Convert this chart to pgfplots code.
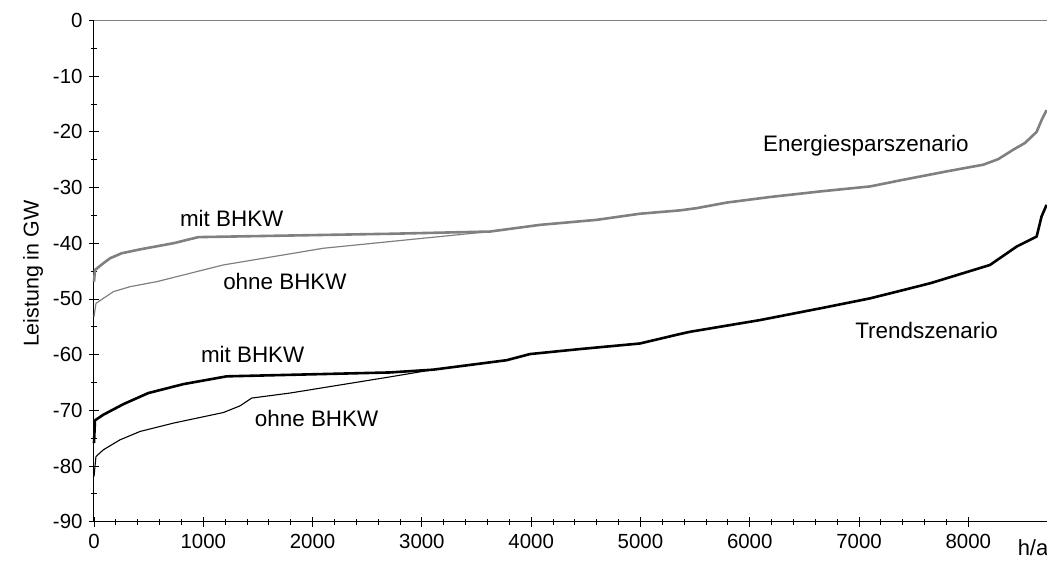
\documentclass[border=0pt]{standalone}
\usepackage{fontspec}
\setmainfont{Liberation Sans}
\usepackage{pgfplots}
\pgfplotsset{compat=1.18}
\definecolor{lgray}{RGB}{128,128,128}
\begin{document}
\begin{tikzpicture}[x=1bp,y=1bp]
\begin{axis}[
  at={(0,0)}, anchor=south west,
  scale only axis, width=953bp, height=501.2bp,
  xmin=0, xmax=8720, ymin=-90, ymax=0,
  axis x line*=bottom, axis y line*=left,
  xtick={0,1000,...,8000}, ytick={-90,-80,...,0},
  minor x tick num=4, minor y tick num=1,
  tick align=center, major tick length=10bp, minor tick length=6bp,
  tick style={black, line width=0.8bp},
  axis line style={black, line width=1bp},
  /pgf/number format/assume math mode=true,
  /pgf/number format/1000 sep={},
  ticklabel style={font=\fontsize{20.5}{24}\selectfont},
  xticklabel style={yshift=-4bp},
  yticklabel style={xshift=-3bp},
  extra y ticks={0}, extra y tick labels={},
  extra y tick style={grid=major, major grid style={lgray, line width=1.5bp}, major tick length=0pt},
  clip=false,
]
% Energiesparszenario mit BHKW
\addplot[lgray, line width=2.6bp, line join=round] coordinates {
(0,-46.9) (9,-44.8) (85,-43.6) (146,-42.7) (253,-41.8) (421,-41.1) (726,-40) (954,-38.9)
(2708,-38.3) (3623,-37.9) (4080,-36.7) (4599,-35.8) (4995,-34.7) (5361,-34.1) (5514,-33.7)
(5788,-32.7) (6185,-31.7) (6642,-30.7) (7100,-29.8) (7405,-28.6) (7801,-27.1) (8136,-25.9)
(8274,-24.9) (8411,-23.2) (8518,-22) (8625,-20) (8670,-17.9) (8716,-16.1)};
% Energiesparszenario ohne BHKW
\addplot[lgray, line width=1.2bp, line join=round] coordinates {
(0,-53.2) (18,-50.8) (85,-49.9) (177,-48.7) (329,-47.8) (573,-46.9) (878,-45.4) (1183,-43.9)
(1549,-42.7) (2098,-40.9) (2708,-39.7) (3623,-37.9)};
% Trendszenario mit BHKW
\addplot[black, line width=2.6bp, line join=round] coordinates {
(0,-75.9) (9,-71.8) (85,-70.8) (268,-68.9) (497,-66.9) (817,-65.3) (1214,-63.9) (2708,-63.2)
(3104,-62.7) (3776,-61) (3989,-59.9) (4447,-59) (4995,-58) (5361,-56.3) (5453,-55.9)
(6093,-53.8) (6642,-51.7) (7100,-49.9) (7649,-47.2) (8198,-43.9) (8442,-40.6) (8625,-38.8)
(8670,-35.2) (8716,-33.1)};
% Trendszenario ohne BHKW
\addplot[black, line width=1.1bp, line join=round] coordinates {
(0,-81.9) (18,-78.3) (85,-77.1) (238,-75.3) (421,-73.8) (726,-72.3) (1183,-70.4) (1336,-69.2)
(1443,-67.8) (1793,-66.9) (2708,-64) (3104,-62.7)};
\node[font=\fontsize{22.5}{26}\selectfont] at (axis cs:1260,-35.6) {mit BHKW};
\node[font=\fontsize{22.5}{26}\selectfont] at (axis cs:1747,-46.9) {ohne BHKW};
\node[font=\fontsize{22.5}{26}\selectfont] at (axis cs:1452,-59.9) {mit BHKW};
\node[font=\fontsize{22.5}{26}\selectfont] at (axis cs:2037,-71.4) {ohne BHKW};
\node[font=\fontsize{22.5}{26}\selectfont] at (axis cs:7063,-22.4) {Energiesparszenario};
\node[font=\fontsize{22.5}{26}\selectfont] at (axis cs:7618,-55.6) {Trendszenario};
\end{axis}
\node[font=\fontsize{22}{25}\selectfont] at (939,-26.3) {h/a};
\node[rotate=90, font=\fontsize{21.5}{25}\selectfont] at (-61,248) {Leistung in GW};
\pgfresetboundingbox
\path (-94,-42.3) rectangle (953,521.7);
\end{tikzpicture}
\end{document}
